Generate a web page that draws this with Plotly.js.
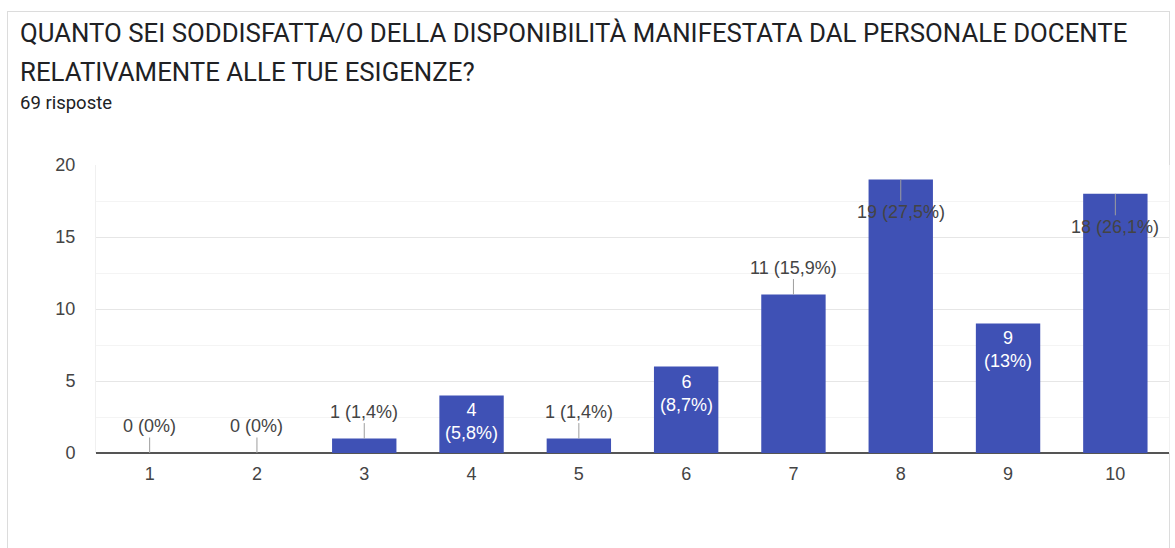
<!DOCTYPE html>
<html>
<head>
<meta charset="utf-8">
<script src="https://cdn.plot.ly/plotly-3.0.1.min.js"></script>
<style>
  body { margin: 0; background: #fff; }
  #scheda {
    position: absolute; left: 7px; top: 11px; width: 1161px; height: 600px;
    border: 1px solid #dcdcdc; border-bottom: none;
  }
  #grafico { position: absolute; left: 0; top: 0; width: 1175px; height: 548px; }
</style>
</head>
<body>
<div id="scheda"></div>
<div id="grafico"></div>
<script>
const categorie = ['1', '2', '3', '4', '5', '6', '7', '8', '9', '10'];
const risposte = [0, 0, 1, 4, 1, 6, 11, 19, 9, 18];
const percentuali = ['0%', '0%', '1,4%', '5,8%', '1,4%', '8,7%', '15,9%', '27,5%', '13%', '26,1%'];
const titolo_righe = [
  'QUANTO SEI SODDISFATTA/O DELLA DISPONIBILITÀ MANIFESTATA DAL PERSONALE DOCENTE',
  'RELATIVAMENTE ALLE TUE ESIGENZE?'
];
const sottotitolo = '69 risposte';

// dove va l'etichetta di ogni barra (come nel grafico di Google Moduli)
const posizione_etichetta = ['sopra', 'sopra', 'sopra', 'dentro', 'sopra', 'dentro', 'sopra', 'cima', 'dentro', 'cima'];

let margine = { l: 96, r: 6, t: 165, b: 95 };
let larghezza = 1175, altezza = 548;
let area_w = larghezza - margine.l - margine.r;
let area_h = altezza - margine.t - margine.b;
function px_x(px) { return (px - margine.l) / area_w; }
function px_y(py) { return (altezza - margine.b - py) / area_h; }

let font_base = 'Liberation Sans, Arial, sans-serif';
let font_titolo = 'Roboto, sans-serif';

let annotazioni = [];
titolo_righe.forEach((riga, i) => {
  annotazioni.push({
    xref: 'paper', yref: 'paper', x: px_x(18), y: px_y(33 + i * 39),
    xanchor: 'left', yanchor: 'middle', showarrow: false,
    text: riga, font: { family: font_titolo, size: 25.8, color: '#202124' }
  });
});
annotazioni.push({
  xref: 'paper', yref: 'paper', x: px_x(18), y: px_y(103),
  xanchor: 'left', yanchor: 'middle', showarrow: false,
  text: sottotitolo, font: { family: font_titolo, size: 18.5, color: '#202124' }
});

// sull'asse a categorie le annotazioni usano l'indice della categoria
categorie.forEach((c, i) => {
  let v = risposte[i];
  let p = percentuali[i];
  let pos = posizione_etichetta[i];
  if (pos === 'dentro') {
    annotazioni.push({
      x: i, y: v, xref: 'x', yref: 'y', showarrow: false,
      yanchor: 'top', yshift: -3,
      text: v + '<br>(' + p + ')',
      font: { family: font_base, size: 18, color: '#ffffff' }
    });
  } else {
    annotazioni.push({
      x: i, y: v, xref: 'x', yref: 'y', showarrow: true,
      arrowhead: 0, arrowwidth: 1, arrowcolor: '#9e9e9e',
      ax: 0, ay: pos === 'sopra' ? -27 : 33,
      text: v + ' (' + p + ')',
      font: { family: font_base, size: 18, color: '#444444' }
    });
  }
});

let data = [{
  x: categorie,
  y: risposte,
  type: 'bar',
  marker: { color: '#3f51b5' },
  hoverinfo: 'x+y'
}];

let forme = {
  width: larghezza,
  height: altezza,
  margin: margine,
  paper_bgcolor: 'rgba(0,0,0,0)',
  plot_bgcolor: '#ffffff',
  bargap: 0.4,
  showlegend: false,
  xaxis: {
    type: 'category',
    range: [-0.5, categorie.length - 0.5],
    showgrid: false,
    ticks: '',
    tickfont: { family: font_base, size: 18, color: '#444444' },
    ticklabelstandoff: 8
  },
  yaxis: {
    range: [0, 20],
    dtick: 5,
    tickfont: { family: font_base, size: 18, color: '#444444' },
    gridcolor: '#e6e6e6',
    showline: true,
    mirror: true,
    linecolor: '#f0f0f0',
    zeroline: true,
    zerolinecolor: '#555555',
    zerolinewidth: 2,
    ticklabelstandoff: 16,
    minor: { dtick: 2.5, showgrid: true, gridcolor: '#f4f4f4' }
  },
  annotations: annotazioni
};

Plotly.newPlot('grafico', data, forme, { displayModeBar: false, staticPlot: true });
</script>
</body>
</html>
